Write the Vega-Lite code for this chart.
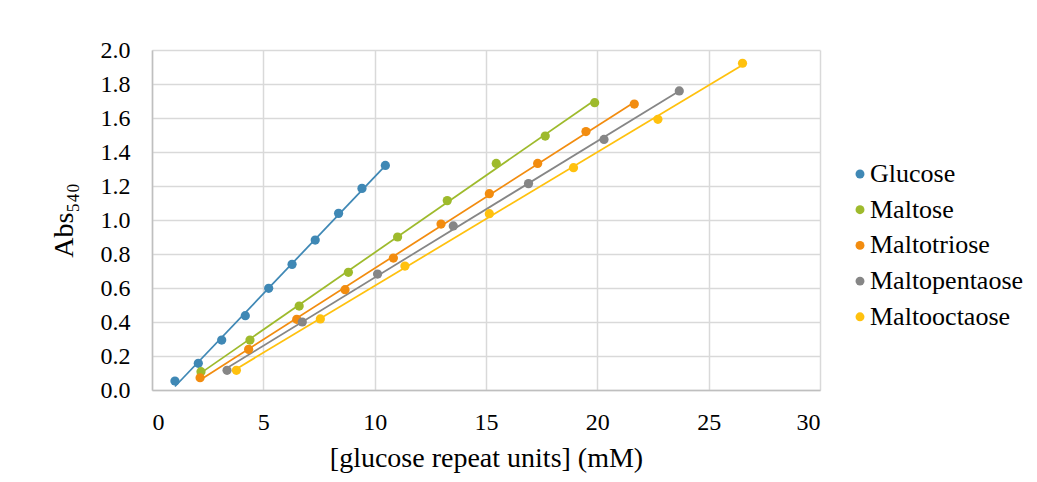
{
  "$schema": "https://vega.github.io/schema/vega-lite/v6.json",
  "width": 668,
  "height": 340,
  "autosize": {"type": "none"},
  "padding": {"left": 152, "top": 50, "right": 217, "bottom": 92},
  "background": "white",
  "config": {
    "font": "Liberation Serif",
    "view": {"stroke": null},
    "axis": {
      "labelFont": "Liberation Serif",
      "titleFont": "Liberation Serif",
      "labelColor": "#000000",
      "titleColor": "#000000",
      "labelFontSize": 24,
      "titleFontSize": 28,
      "titleFontWeight": "normal",
      "gridColor": "#D9D9D9",
      "gridWidth": 1.5,
      "domainColor": "#BFBFBF",
      "domainWidth": 1.5,
      "ticks": false,
      "labelOverlap": false
    },
    "legend": {
      "labelFont": "Liberation Serif",
      "labelFontSize": 26,
      "labelColor": "#000000"
    }
  },
  "data": {
    "values": [
      {"series": "Glucose", "x": 1.03, "y": 0.053},
      {"series": "Glucose", "x": 2.08, "y": 0.157},
      {"series": "Glucose", "x": 3.13, "y": 0.294},
      {"series": "Glucose", "x": 4.19, "y": 0.437},
      {"series": "Glucose", "x": 5.24, "y": 0.598},
      {"series": "Glucose", "x": 6.29, "y": 0.739},
      {"series": "Glucose", "x": 7.33, "y": 0.882},
      {"series": "Glucose", "x": 8.38, "y": 1.039},
      {"series": "Glucose", "x": 9.43, "y": 1.186},
      {"series": "Glucose", "x": 10.48, "y": 1.321},
      {"series": "Maltose", "x": 2.2, "y": 0.108},
      {"series": "Maltose", "x": 4.4, "y": 0.294},
      {"series": "Maltose", "x": 6.61, "y": 0.494},
      {"series": "Maltose", "x": 8.82, "y": 0.692},
      {"series": "Maltose", "x": 11.03, "y": 0.9},
      {"series": "Maltose", "x": 13.26, "y": 1.114},
      {"series": "Maltose", "x": 15.46, "y": 1.333},
      {"series": "Maltose", "x": 17.66, "y": 1.494},
      {"series": "Maltose", "x": 19.88, "y": 1.69},
      {"series": "Maltotriose", "x": 2.16, "y": 0.072},
      {"series": "Maltotriose", "x": 4.34, "y": 0.239},
      {"series": "Maltotriose", "x": 6.5, "y": 0.416},
      {"series": "Maltotriose", "x": 8.67, "y": 0.59},
      {"series": "Maltotriose", "x": 10.84, "y": 0.776},
      {"series": "Maltotriose", "x": 12.98, "y": 0.976},
      {"series": "Maltotriose", "x": 15.15, "y": 1.155},
      {"series": "Maltotriose", "x": 17.32, "y": 1.333},
      {"series": "Maltotriose", "x": 19.49, "y": 1.52},
      {"series": "Maltotriose", "x": 21.66, "y": 1.682},
      {"series": "Maltopentaose", "x": 3.37, "y": 0.116},
      {"series": "Maltopentaose", "x": 6.75, "y": 0.4},
      {"series": "Maltopentaose", "x": 10.13, "y": 0.682},
      {"series": "Maltopentaose", "x": 13.53, "y": 0.965},
      {"series": "Maltopentaose", "x": 16.91, "y": 1.214},
      {"series": "Maltopentaose", "x": 20.3, "y": 1.474},
      {"series": "Maltopentaose", "x": 23.68, "y": 1.759},
      {"series": "Maltooctaose", "x": 3.79, "y": 0.116},
      {"series": "Maltooctaose", "x": 7.56, "y": 0.418},
      {"series": "Maltooctaose", "x": 11.36, "y": 0.729},
      {"series": "Maltooctaose", "x": 15.15, "y": 1.037},
      {"series": "Maltooctaose", "x": 18.93, "y": 1.308},
      {"series": "Maltooctaose", "x": 22.72, "y": 1.592},
      {"series": "Maltooctaose", "x": 26.52, "y": 1.922}
    ]
  },
  "encoding": {
    "x": {
      "field": "x",
      "type": "quantitative",
      "scale": {"domain": [0, 30], "nice": false},
      "axis": {
        "values": [0, 5, 10, 15, 20, 25, 30],
        "title": "[glucose repeat units] (mM)",
        "labelPadding": 20,
        "titlePadding": 10,
        "grid": true
      }
    },
    "y": {
      "field": "y",
      "type": "quantitative",
      "scale": {"domain": [0, 2], "nice": false},
      "axis": {
        "values": [0, 0.2, 0.4, 0.6, 0.8, 1.0, 1.2, 1.4, 1.6, 1.8, 2.0],
        "format": ".1f",
        "title": "Abs₅₄₀",
        "labelPadding": 22,
        "titlePadding": 22,
        "grid": true
      }
    },
    "color": {
      "field": "series",
      "type": "nominal",
      "scale": {
        "domain": ["Glucose", "Maltose", "Maltotriose", "Maltopentaose", "Maltooctaose"],
        "range": ["#3F88B5", "#9EBA2C", "#F28C0F", "#868686", "#FFC10E"]
      }
    }
  },
  "layer": [
    {
      "transform": [
        {"regression": "y", "on": "x", "groupby": ["series"]}
      ],
      "mark": {"type": "line", "strokeWidth": 1.75},
      "encoding": {
        "color": {"field": "series", "type": "nominal", "legend": null}
      }
    },
    {
      "mark": {"type": "circle", "size": 85, "opacity": 1},
      "encoding": {
        "color": {
          "field": "series",
          "type": "nominal",
          "legend": {
            "title": null,
            "orient": "none",
            "legendX": 695,
            "legendY": 111,
            "padding": 0,
            "symbolType": "circle",
            "symbolSize": 80,
            "symbolStrokeWidth": 0,
            "rowPadding": 9.7,
            "labelOffset": -3,
            "labelLimit": 300
          }
        }
      }
    }
  ],
  "resolve": {"legend": {"color": "independent"}}
}
